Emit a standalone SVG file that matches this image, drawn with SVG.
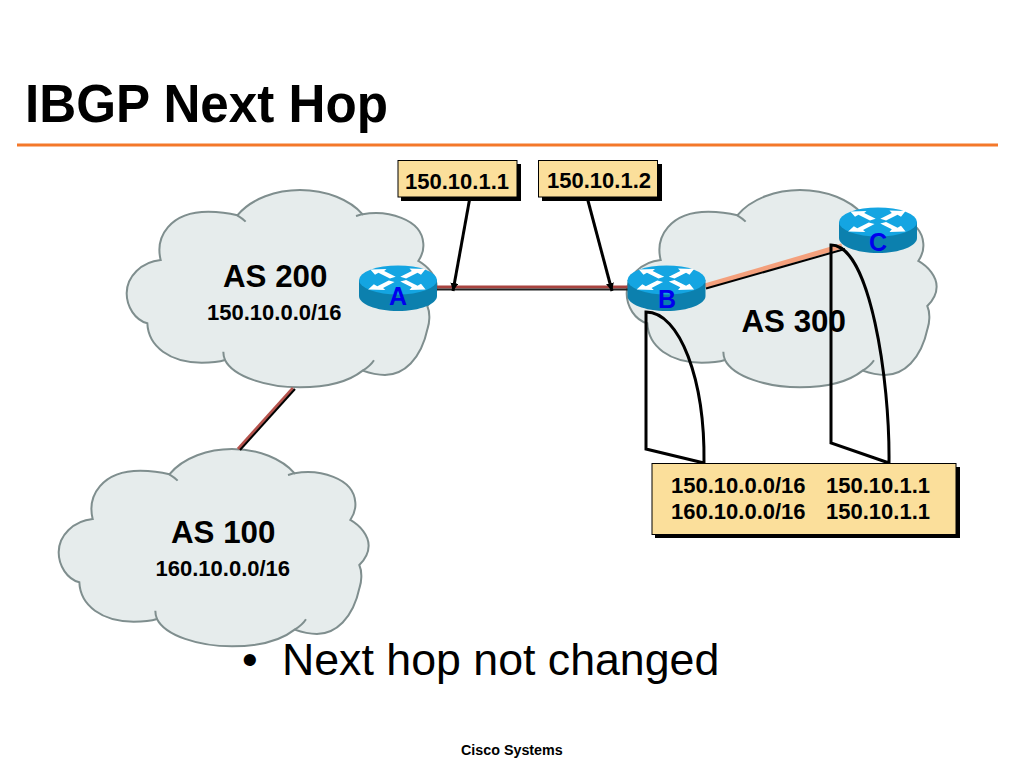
<svg xmlns="http://www.w3.org/2000/svg" xmlns:xlink="http://www.w3.org/1999/xlink" width="1024" height="768" viewBox="0 0 1024 768">
<style>
text{font-family:"Liberation Sans",Arial,sans-serif;font-weight:bold;fill:#000}
.cl{fill:#e6ecec;stroke:#7f8e8e;stroke-width:6}
.tl{fill:none;stroke:#7f8e8e;stroke-width:6}
.as{font-size:31.300px}.sm{font-size:22px}
.box{fill:#fbdf9b;stroke:#000;stroke-width:1}
.sh{fill:#000}
.rl{font-size:25px;fill:#0000ee;text-anchor:middle}
.ln{fill:none;stroke:#000;stroke-width:3}
</style>
<defs>
<marker id="ah" markerUnits="userSpaceOnUse" markerWidth="9" markerHeight="10" refX="8" refY="4" orient="auto"><path d="M0 0L8 4L0 8Z" fill="#000"/></marker>
<g id="cloud" transform="scale(.3333)">
<path class="cl" d="M122 240C105 170 150 95 265 95C300 95 330 100 352 106C395 55 470 30 540 30C620 30 690 60 728 103C800 90 905 115 910 190C912 210 905 228 895 243C925 260 950 290 950 320C950 345 935 365 922 378C932 400 928 430 923 445C903 540 850 585 795 585C770 585 745 578 728 572C680 610 610 622 540 622C440 622 340 590 315 540C290 548 265 548 245 548C150 548 85 500 82 430C45 420 20 380 20 340C20 290 65 245 122 240Z"/>
<path class="tl" d="M352 106C362 112 370 118 377 125M728 103C722 104 716 106 708 108M728 572C745 562 755 552 762 541M315 540C312 532 310 524 310 515"/>
</g>
<g id="rt">
<path d="M-39 0V16C-39 24 -22 31 0 31C22 31 39 24 39 16V0Z" fill="#0c80ae"/>
<ellipse cx="0" cy="0" rx="39" ry="14.500" fill="#14a5e2"/>
<path fill="#fff" transform="scale(1.15 1.05)" d="M-24 -10L-10 -10.500L-12 -8.500L-2 -3L-7 -1.500L-17 -7L-20 -5ZM24 -10.500L10 -11L12 -8.500L2 -3L7 -1.500L17 -7L20 -5ZM-26 9L-11 9.500L-13 7.500L-3 2L-8 .5L-18 6L-21 4ZM24 9L10 9.500L12 7L2 1.500L7 0L17 5.500L20 3.500Z"/>
</g>
</defs>
<rect width="1024" height="768" fill="#fff"/>
<text x="25" y="122" font-size="54" textLength="363" lengthAdjust="spacingAndGlyphs">IBGP Next Hop</text>
<rect x="17" y="143.500" width="981" height="3" fill="#f4782a"/>
<g id="as200"><use xlink:href="#cloud" href="#cloud" transform="translate(120,180)"/><text class="as" x="223" y="287">AS 200</text><text class="sm" x="207" y="320">150.10.0.0/16</text></g>
<g id="as300"><use xlink:href="#cloud" href="#cloud" transform="translate(620,180)"/></g>
<g id="as100"><use xlink:href="#cloud" href="#cloud" transform="translate(52,439)"/><text class="as" x="171" y="543">AS 100</text><text class="sm" x="155.500" y="576">160.10.0.0/16</text></g>
<g id="connectors">
<path d="M293 388L238 449" stroke="#b5524c" stroke-width="3" fill="none"/>
<path d="M295 389L240 450" stroke="#000" stroke-width="2" fill="none"/>
<path d="M435 287H630" stroke="#a8433f" stroke-width="3" fill="none"/>
<path d="M435 289.500H630" stroke="#222" stroke-width="2" fill="none"/>
<path d="M705 286L842 246" stroke="#f4a07c" stroke-width="5" fill="none"/>
<path d="M706 288.500L845 249" stroke="#000" stroke-width="2" fill="none"/>
<path d="M470 197L453 291" class="ln" marker-end="url(#ah)"/>
<path d="M587 197L612 291" class="ln" marker-end="url(#ah)"/>
</g>
<g id="routerA"><use xlink:href="#rt" href="#rt" transform="translate(398,280)"/><text class="rl" x="398" y="305">A</text></g>
<g id="routerB"><use xlink:href="#rt" href="#rt" transform="translate(666.500,280)"/><text class="rl" x="667" y="308">B</text></g>
<g id="routerC"><use xlink:href="#rt" href="#rt" transform="translate(878,222)"/><text class="rl" x="878" y="251">C</text></g>
<text class="as" x="741.500" y="332">AS 300</text>
<g id="brackets">
<path class="ln" d="M704 463C705 380 680 312 646 312V449L704 463"/>
<path class="ln" d="M889 463C890 380 870 245 831 245V443L889 463"/>
</g>
<g id="label1"><rect class="sh" x="401" y="164" width="120" height="37"/><rect class="box" x="398" y="160.500" width="119" height="36.500"/><text class="sm" x="405" y="189">150.10.1.1</text></g>
<g id="label2"><rect class="sh" x="542" y="164" width="120" height="37"/><rect class="box" x="538.500" y="160.500" width="119" height="36.500"/><text class="sm" x="547" y="188">150.10.1.2</text></g>
<g id="table"><rect class="sh" x="655" y="467" width="305" height="71"/><rect class="box" x="652" y="463.500" width="304" height="71"/><text class="sm" x="671" y="493">150.10.0.0/16</text><text class="sm" x="826" y="493">150.10.1.1</text><text class="sm" x="671" y="519">160.10.0.0/16</text><text class="sm" x="826" y="519">150.10.1.1</text></g>
<text x="242" y="675" font-size="44.700" style="font-weight:normal">•</text>
<text x="282" y="675" font-size="44.700" style="font-weight:normal">Next hop not changed</text>
<text x="461" y="755" font-size="14.300">Cisco Systems</text>
</svg>
